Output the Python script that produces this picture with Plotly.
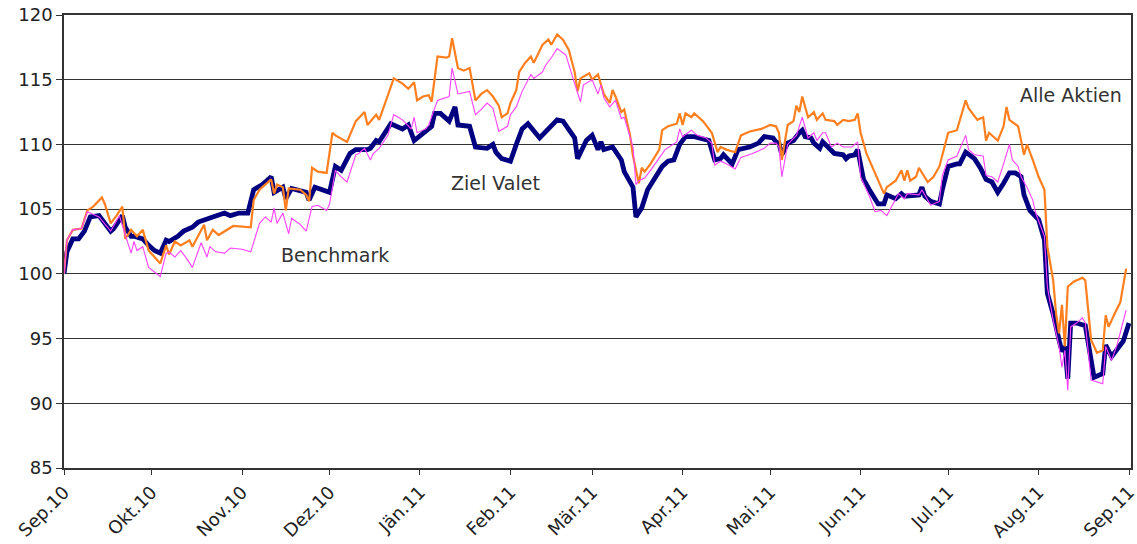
import pandas as pd
import plotly.graph_objects as go

START = "2010-09-01"

# Ziel Valet (days since 2010-09-01, index value)
zv_days = [0, 1, 3, 5, 7, 9, 12, 13, 16, 17, 20, 21, 23, 24, 27, 29, 31, 33, 35, 36, 39, 41, 43, 44, 46, 48, 51, 55, 57, 60,
           63, 65, 68, 71, 72, 75, 76, 78, 83, 84, 86, 91, 93, 95, 98, 100, 104, 105, 107, 108, 112, 116, 118, 120,
           124, 126, 127, 129, 132, 134, 135, 139, 141, 145, 147, 148, 150, 153, 155, 157, 159, 163, 166, 169, 171,
           175, 176, 179, 181, 183, 184, 185, 188, 191, 192, 195, 196, 198, 200, 203, 205, 207, 209, 211, 213, 216,
           220, 221, 223, 225, 226, 229, 231, 235, 238, 240, 243, 244, 245, 246, 248, 250, 252, 253, 254, 256, 257,
           259, 260, 262, 264, 267, 268, 269, 271, 272, 274, 276, 279, 281, 282, 285, 287, 288, 293, 294, 295, 297,
           300, 301, 303, 306, 307, 309, 312, 314, 316, 318, 320, 322, 324, 326, 328, 329, 331, 334, 336, 337, 339,
           341, 342, 343, 344, 345, 347, 350, 352, 353, 356, 357, 359, 362, 363, 365]
zv_vals = [100.0, 101.7, 102.7, 102.7, 103.3, 104.4, 104.5, 104.2, 103.3, 103.5, 104.5, 103.6, 102.9, 102.9, 102.7, 102.2,
           101.8, 101.6, 102.6, 102.5, 102.9, 103.3, 103.5, 103.6, 104.0, 104.2, 104.4, 104.7, 104.5, 104.7,
           104.7, 106.5, 106.9, 107.5, 106.3, 106.7, 105.8, 106.6, 106.3, 105.7, 106.7, 106.3, 108.3, 108.0, 109.3,
           109.6, 109.6, 109.7, 110.3, 110.2, 111.6, 111.2, 111.5, 110.3,
           111.1, 111.4, 112.4, 112.4, 111.8, 112.9, 111.5, 111.4, 109.8, 109.7, 110.0, 109.4, 108.9, 108.7, 110.0,
           111.2, 111.6, 110.5, 111.2, 111.9, 111.8,
           110.5, 108.9, 110.3, 110.7, 109.6, 110.2, 109.6, 109.8, 108.8, 107.9, 106.7, 104.4, 105.1, 106.5, 107.5,
           108.3, 108.7, 108.8, 110.0, 110.6, 110.6,
           110.3, 110.3, 108.8, 108.9, 109.2, 108.5, 109.6, 109.8, 110.1, 110.6, 110.5, 110.2, 110.1, 109.2, 110.1,
           110.3, 110.9, 111.1, 110.6, 110.5, 110.1,
           109.7, 110.2, 109.8, 109.3, 109.2, 108.9, 109.1, 109.2, 109.6, 107.3, 106.5, 105.4, 105.4, 106.1, 105.8,
           106.2, 106.0, 106.1, 106.7, 106.0, 105.6,
           105.4, 106.5, 108.3, 108.5, 108.5, 109.4, 108.9, 108.2, 107.3, 107.1, 106.3, 107.0, 107.8, 107.8, 107.5,
           106.1, 104.9, 104.2, 102.6, 98.5, 96.9,
           94.9, 94.0, 94.4, 91.9, 96.2, 96.2, 96.0, 93.1, 92.0, 92.3, 94.5, 93.6, 94.5, 94.8, 96.2]

# Alle Aktien
aa_days = [0, 1, 3, 6, 8, 10, 13, 14, 16, 18, 20, 21, 23, 25, 27, 29, 31, 33, 35, 36, 38, 40, 43, 44, 48, 49, 51, 53, 58,
           62, 64, 65, 67, 71, 72, 73, 75, 76, 77, 81, 83, 84, 85, 87, 90, 92, 93, 97, 100, 103, 104, 107, 108, 111,
           113, 116, 118, 120, 121, 123, 125, 126, 128, 131, 132, 133, 135, 137, 139, 141, 143, 145, 147, 149, 150,
           152, 153, 155, 156, 158, 160, 161, 163, 164, 166, 167, 169, 171, 173, 175, 176, 177, 180, 181, 183, 185,
           187, 188, 189, 191, 192, 194, 195, 197, 198, 199, 201, 202, 204, 205, 207, 210, 211, 212, 213, 215, 216,
           219, 222, 224, 225, 227, 230, 232, 235, 239, 242, 244, 245, 246, 248, 250, 251, 252, 253, 255, 257, 258,
           260, 261, 264, 265, 267, 269, 271, 272, 273, 275, 278, 280, 281, 282, 285, 287, 288, 289, 290, 292, 293,
           296, 298, 300, 302, 303, 306, 309, 310, 313, 315, 316, 317, 320, 322, 323, 324, 327, 329, 330, 332, 334,
           336, 337, 339, 340, 341, 342, 343, 344, 346, 349, 350, 352, 354, 356, 357, 358, 360, 362, 364]
aa_vals = [100.0, 102.6, 103.4, 103.5, 104.9, 105.2, 105.9, 105.4, 103.9, 104.5, 105.2, 102.7, 103.4, 102.9, 103.4, 101.8,
           101.3, 100.8, 102.2, 101.5, 102.5, 102.2, 102.6, 102.1, 103.8, 102.6, 103.4, 103.0, 103.7,
           103.6, 103.6, 105.7, 106.5, 107.3, 106.2, 106.9, 106.7, 104.9, 106.6, 106.5, 106.1, 105.6, 108.2, 107.9,
           107.8, 110.9, 110.7, 110.2, 111.8, 112.5, 111.5, 112.3, 111.9, 113.8,
           115.1, 114.7, 114.3, 114.8, 113.4, 113.7, 113.8, 113.3, 116.8, 116.7, 116.8, 118.2, 115.9, 115.7, 115.9,
           113.4, 113.9, 114.2, 113.7, 113.0, 112.1,
           112.4, 113.2, 114.2, 115.6, 116.3, 116.8, 116.3, 117.2, 117.7, 118.1, 117.7, 118.5, 118.1, 117.3, 115.6,
           114.1, 115.1, 115.5, 115.0, 115.4, 113.9,
           113.2, 114.2, 113.7, 112.5, 112.7, 110.7, 109.1, 107.0, 108.2, 107.9, 108.5, 108.9, 109.6, 111.1, 111.4,
           111.6, 112.4, 111.5, 112.4, 112.1, 112.4,
           111.8, 110.9, 109.4, 109.8, 109.6, 109.4, 110.7, 111.0, 111.2, 111.5, 111.4, 110.9, 108.8, 111.5, 111.8,
           113.0, 112.5, 113.7, 112.1, 112.5, 111.9,
           112.4, 111.9, 111.8, 111.5, 111.9, 111.8, 111.9, 112.4, 110.9, 109.3, 107.8, 106.7, 106.2, 106.7, 107.2,
           108.0, 107.2, 108.0, 107.2, 107.5, 108.2,
           107.1, 107.5, 108.3, 110.1, 110.9, 111.1, 113.4, 112.8, 111.9, 112.1, 110.3, 110.9, 110.3, 111.4, 112.9,
           111.9, 111.4, 109.2, 110.0, 108.8, 107.5,
           106.5, 102.1, 99.5, 96.9, 95.4, 97.6, 94.4, 99.0, 99.4, 99.7, 99.5, 94.9, 93.9, 94.1, 96.8, 95.9, 96.9,
           97.8, 100.4]

# Benchmark
bm_days = [0, 1, 3, 6, 8, 12, 16, 19, 21, 23, 24, 25, 27, 29, 33, 35, 36, 38, 40, 42, 44, 47, 49, 50, 52, 55, 57, 61, 64,
           67, 69, 71, 72, 73, 75, 77, 78, 81, 83, 85, 87, 90, 91, 93, 95, 97, 100, 101, 103, 105, 106, 108, 111, 113,
           116, 119, 120, 121, 124, 125, 128, 132, 133, 135, 139, 141, 143, 145, 147, 148, 149, 152, 153, 155, 157,
           160, 161, 164, 165, 167, 169, 172, 173, 175, 177, 178, 181, 183, 184, 185, 187, 189, 191, 192, 195, 196,
           197, 199, 201, 204, 206, 210, 211, 212, 215, 217, 220, 222, 223, 225, 227, 230, 232, 236, 240, 242, 244,
           245, 246, 248, 251, 252, 253, 255, 257, 258, 260, 261, 263, 265, 267, 270, 272, 273, 276, 278, 280, 282,
           284, 286, 288, 289, 293, 294, 297, 300, 301, 303, 306, 309, 310, 312, 315, 316, 318, 320, 322, 324, 325,
           327, 328, 330, 332, 333, 336, 337, 339, 341, 342, 343, 344, 345, 347, 349, 350, 352, 356, 357, 359, 361,
           364]
bm_vals = [100.0, 102.6, 103.4, 103.5, 104.8, 104.4, 103.3, 104.5, 103.0, 101.6, 102.5, 101.8, 102.1, 100.5, 99.8, 101.6,
           101.7, 101.3, 101.8, 101.2, 100.5, 102.4, 101.3, 102.1, 101.7, 101.6, 102.0, 101.9, 101.7,
           103.9, 104.4, 104.0, 105.1, 103.9, 104.7, 103.1, 104.3, 103.8, 103.3, 105.2, 105.3, 104.9, 105.4, 108.0,
           107.5, 107.1, 109.2, 109.3, 109.7, 108.8, 109.3, 109.7, 110.7, 112.3,
           111.9, 111.2, 112.1, 110.9, 111.2, 111.5, 113.4, 113.7, 115.9, 113.9, 114.1, 112.3, 112.7, 113.2, 112.8,
           112.0, 111.0, 111.4, 112.3, 112.9, 114.1,
           115.4, 115.1, 115.6, 116.1, 116.7, 117.4, 116.9, 116.1, 114.7, 113.3, 114.6, 115.0, 113.9, 114.6, 113.6,
           112.9, 113.4, 112.0, 112.1, 109.8, 106.9,
           107.2, 107.4, 108.0, 109.0, 109.6, 110.2, 111.2, 110.6, 111.1, 110.7, 110.5, 110.1, 108.4, 108.7, 108.5,
           108.1, 109.0, 109.3, 109.7, 110.1, 110.1,
           109.8, 107.5, 110.0, 110.7, 111.4, 112.1, 110.5, 110.9, 110.3, 110.9, 110.9, 109.8, 110.1, 109.8, 109.8,
           110.2, 107.5, 106.0, 104.8, 104.9, 104.5,
           105.3, 106.2, 105.8, 106.2, 106.1, 106.5, 105.3, 105.6, 107.6, 108.8, 109.1, 110.7, 109.6, 109.2, 109.1,
           107.6, 107.5, 107.1, 108.5, 110.0, 108.8,
           108.3, 107.5, 106.7, 105.7, 104.7, 102.9, 99.0, 96.4, 94.4, 92.8, 94.1, 91.0, 95.9, 96.2, 96.6, 96.2, 91.8,
           91.5, 94.4, 93.3, 94.6,
           97.2]

month_ticks = ["2010-09-01", "2010-10-01", "2010-11-01", "2010-12-01", "2011-01-01", "2011-02-01", "2011-03-01",
               "2011-04-01", "2011-05-01", "2011-06-01", "2011-07-01", "2011-08-01", "2011-09-01"]
month_labels = ["Sep.10", "Okt.10", "Nov.10", "Dez.10", "Jän.11", "Feb.11", "Mär.11", "Apr.11", "Mai.11", "Jun.11",
                "Jul.11", "Aug.11", "Sep.11"]
y_ticks = [85, 90, 95, 100, 105, 110, 115, 120]

# series labels: (text, days since start, value)
labels = [("Alle Aktien", 345, 113.8), ("Ziel Valet", 148, 107.0), ("Benchmark", 93, 101.45)]


def to_dates(days):
    return pd.Timestamp(START) + pd.to_timedelta(days, unit="D")


FONT = "DejaVu Sans"
fig = go.Figure()
fig.add_trace(go.Scatter(x=to_dates(zv_days), y=zv_vals, mode="lines", name="Ziel Valet",
                         line=dict(color="#000080", width=4.8)))
fig.add_trace(go.Scatter(x=to_dates(aa_days), y=aa_vals, mode="lines", name="Alle Aktien",
                         line=dict(color="#FF7F1E", width=2.2)))
fig.add_trace(go.Scatter(x=to_dates(bm_days), y=bm_vals, mode="lines", name="Benchmark",
                         line=dict(color="#FF40FF", width=1.1)))

for txt, d, yv in labels:
    fig.add_annotation(x=pd.Timestamp(START) + pd.Timedelta(days=d), y=yv, text=txt, showarrow=False,
                       xanchor="center", font=dict(family=FONT, size=19, color="#333333"))

fig.update_layout(
    width=1137, height=544,
    margin=dict(l=64, r=6, t=15, b=76),
    paper_bgcolor="white", plot_bgcolor="white",
    showlegend=False,
    font=dict(family=FONT, size=18, color="#222222"),
)
fig.update_xaxes(
    type="date", range=["2010-09-01", "2011-09-01 16:00"], automargin=False,
    tickvals=month_ticks, ticktext=month_labels, tickangle=-45, ticklabeloverflow="allow",
    ticks="outside", ticklen=5, tickcolor="#333333",
    showline=True, linecolor="#333333", linewidth=1.5, mirror=True,
    showgrid=False, zeroline=False,
    tickfont=dict(family=FONT, size=18, color="#222222"),
)
fig.update_yaxes(
    range=[85, 120], tickvals=y_ticks, automargin=False, ticklabeloverflow="allow",
    ticks="outside", ticklen=6, tickcolor="#333333",
    showline=True, linecolor="#333333", linewidth=1.5, mirror=True,
    showgrid=True, gridcolor="#333333", gridwidth=1.2, zeroline=False,
    tickfont=dict(family=FONT, size=18, color="#222222"),
)

# remove the default 8px page margin so the figure fills the window exactly
fig.write_html("out.html", config={"displayModeBar": False},
               post_script="document.body.style.margin='0';document.body.style.overflow='hidden';")
